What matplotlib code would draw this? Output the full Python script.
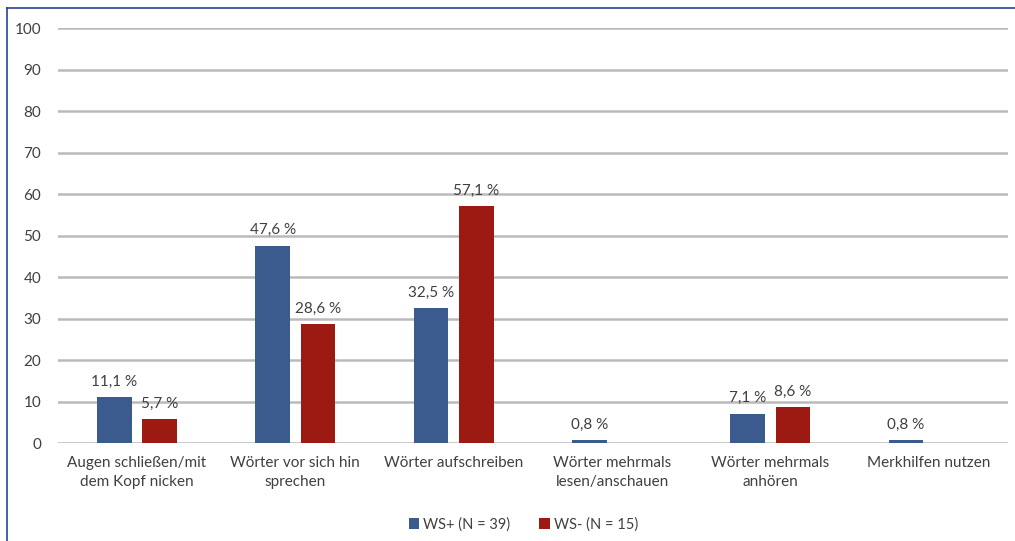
import matplotlib.pyplot as plt
from matplotlib.lines import Line2D
import numpy as np

categories = ["Augen schließen/mit\ndem Kopf nicken", "Wörter vor sich hin\nsprechen",
              "Wörter aufschreiben", "Wörter mehrmals\nlesen/anschauen",
              "Wörter mehrmals\nanhören", "Merkhilfen nutzen"]
ws_plus = [11.1, 47.6, 32.5, 0.8, 7.1, 0.8]
ws_minus = [5.7, 28.6, 57.1, None, 8.6, None]
series_names = ["WS+ (N = 39)", "WS- (N = 15)"]

plt.rcParams['font.family'] = ['Lato', 'DejaVu Sans']

fig = plt.figure(figsize=(10.15, 5.41), dpi=100)
ax = fig.add_axes([0.057, 0.181, 0.936, 0.767])

x = np.arange(len(categories))
w = 0.22
off = 0.143
blue = '#3B5B8E'
red = '#9C1A12'

plus_vals = [v if v is not None else 0 for v in ws_plus]
minus_vals = [v if v is not None else 0 for v in ws_minus]
ax.bar(x - off, plus_vals, w, color=blue, label=series_names[0], zorder=3)
ax.bar(x + off, minus_vals, w, color=red, label=series_names[1], zorder=3)

for xi, v in zip(x, ws_plus):
    if v is not None:
        ax.annotate(f"{v:.1f} %".replace('.', ','), (xi - off, v), xytext=(0, 6),
                    textcoords='offset points', ha='center', va='bottom',
                    fontsize=11, color='#404040')
for xi, v in zip(x, ws_minus):
    if v is not None:
        ax.annotate(f"{v:.1f} %".replace('.', ','), (xi + off, v), xytext=(0, 6),
                    textcoords='offset points', ha='center', va='bottom',
                    fontsize=11, color='#404040')

ax.set_xlim(-0.5, len(categories) - 0.5)
ax.set_ylim(0, 100)
ax.set_yticks(range(0, 101, 10))
ax.grid(axis='y', color='#BABABA', linewidth=1.8, zorder=0)
ax.set_axisbelow(True)
for s in ax.spines.values():
    s.set_visible(False)
ax.set_xticks(x)
ax.set_xticklabels(categories, fontsize=11, color='#404040', linespacing=1.5)
ax.tick_params(axis='both', length=0, labelsize=11, labelcolor='#404040')
ax.tick_params(axis='y', pad=12)
ax.tick_params(axis='x', pad=9)

ax.legend(loc='lower center', bbox_to_anchor=(0.49, -0.245), ncol=2, frameon=False,
          fontsize=10.5, handlelength=0.7, handleheight=0.7, handletextpad=0.3,
          columnspacing=2.0, labelcolor='#404040')

# blue frame round the picture
fig.add_artist(Line2D([0.007, 0.007], [0, 0.985], color='#2B3F9E', linewidth=1.2))
fig.add_artist(Line2D([0.007, 1.0], [0.985, 0.985], color='#2B3F9E', linewidth=1.2))

fig.savefig('out.png', dpi=100)
